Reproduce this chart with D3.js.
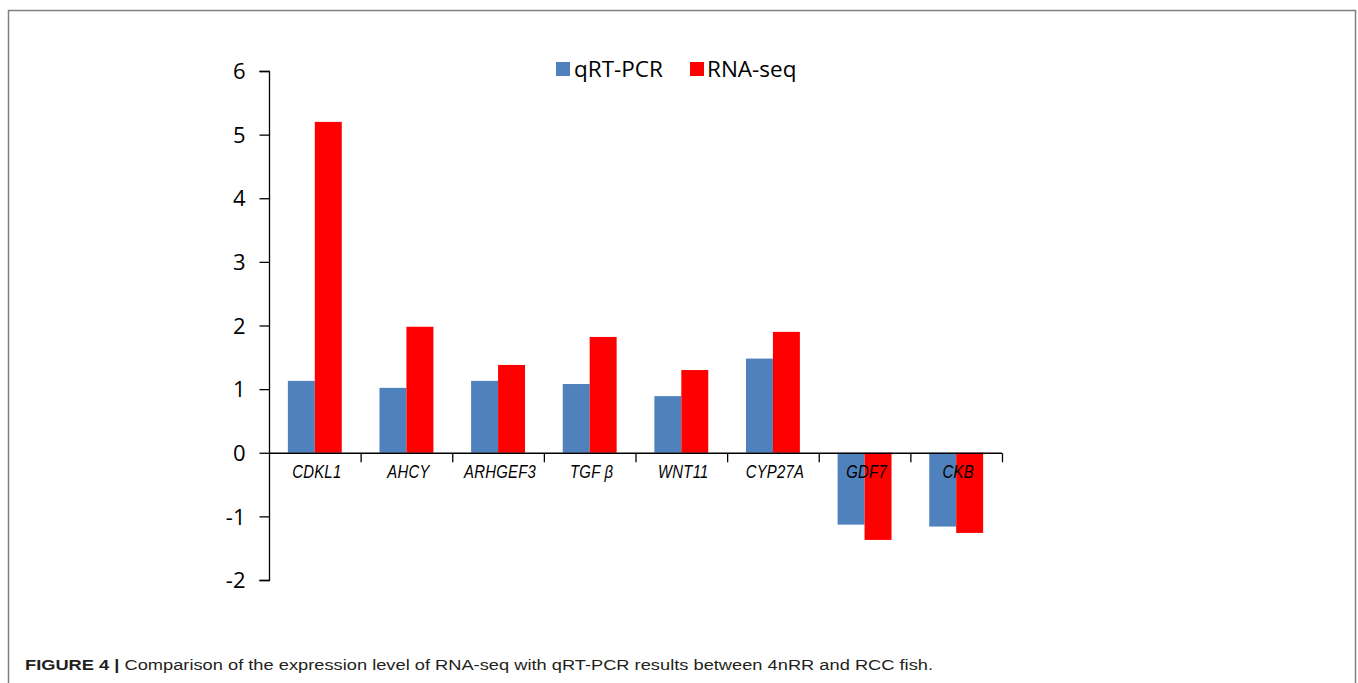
<!DOCTYPE html>
<html><head><meta charset="utf-8">
<script src="https://cdn.jsdelivr.net/npm/d3@7/dist/d3.min.js"></script>
<style>body{margin:0;background:#fff;} svg{display:block;}</style>
</head><body>
<svg id="c" width="1358" height="683"></svg>
<script>
const categories = ["CDKL1","AHCY","ARHGEF3","TGF β","WNT11","CYP27A","GDF7","CKB"];
const seriesNames = ["qRT-PCR","RNA-seq"];
const qrtpcr = [1.13, 1.02, 1.13, 1.08, 0.89, 1.48, -1.13, -1.16];
const rnaseq = [5.20, 1.98, 1.38, 1.82, 1.30, 1.90, -1.37, -1.26];
const yTicks = [-2,-1,0,1,2,3,4,5,6];
const colors = ["#4f81bd","#ff0000"];
const caption = "Comparison of the expression level of RNA-seq with qRT-PCR results between 4nRR and RCC fish.";

const svg = d3.select("#c");
// frame
svg.append("path").attr("d","M8.5,683 V10.5 H1355.5 V683").attr("fill","none").attr("stroke","#7f7f7f").attr("stroke-width",1.5);

const x = d3.scaleBand().domain(categories).range([269,1002]).paddingInner(0).paddingOuter(0);
const y = d3.scaleLinear().domain([-2,6]).range([580,71]);
const inner = d3.scaleBand().domain(seriesNames).range([0, x.bandwidth()]).paddingInner(0).paddingOuter(0.7);

const data = [qrtpcr, rnaseq];
const g = svg.append("g");
seriesNames.forEach((s,si)=>{
  g.selectAll(".b"+si).data(categories).enter().append("rect")
    .attr("x", c => x(c) + inner(s))
    .attr("width", inner.bandwidth())
    .attr("y", (c,i)=> y(Math.max(0,data[si][i])))
    .attr("height", (c,i)=> Math.abs(y(data[si][i]) - y(0)))
    .attr("fill", colors[si]);
});

// y axis
const yAxis = d3.axisLeft(y).tickValues(yTicks).tickSize(10).tickPadding(14).tickFormat(d => String(d));
const ya = svg.append("g").attr("transform","translate(269.5,0)").call(yAxis);
ya.select(".domain").attr("stroke","#000").attr("stroke-width",1.3).attr("d","M-10,"+(y(6)+0.5)+"H0V"+(y(-2)+0.5)+"H-10");
ya.selectAll(".tick line").attr("stroke","#000").attr("stroke-width",1.3);
ya.selectAll("text").attr("font-family","'Open Sans', sans-serif").attr("font-size",22).attr("fill","#000").attr("dy","0.35em");

// x axis at 0
const xa = svg.append("g").attr("transform","translate(0,"+(y(0)+0.5)+")");
xa.append("line").attr("x1",269).attr("x2",1002).attr("stroke","#000").attr("stroke-width",1.3);
const bounds = categories.map(c=>x(c)+x.bandwidth());
xa.selectAll(".xt").data(bounds).enter().append("line")
  .attr("x1",d=>d+0.5).attr("x2",d=>d+0.5).attr("y1",0).attr("y2",9).attr("stroke","#000").attr("stroke-width",1.3);
xa.selectAll(".xl").data(categories).enter().append("text")
  .attr("transform",c=>"translate("+(x(c)+x.bandwidth()/2+2)+",24.5) scale(0.85,1)")
  .attr("text-anchor","middle")
  .attr("font-family","'Liberation Sans',Arial,sans-serif")
  .attr("font-style","italic").attr("font-size",17.5).attr("letter-spacing","0.3px").attr("fill","#000")
  .text(c=>c);

// legend
const lg = svg.append("g");
const legendPos = [{x:556, tx:574},{x:690, tx:707}];
seriesNames.forEach((s,i)=>{
  lg.append("rect").attr("x",legendPos[i].x).attr("y",62).attr("width",14).attr("height",14).attr("fill",colors[i]);
  lg.append("text").attr("x",legendPos[i].tx).attr("y",77).attr("font-family","'Open Sans',sans-serif").attr("font-size",22.5).attr("fill","#000").text(s);
});

// caption
const cap = svg.append("text").attr("transform","translate(25,669.5) scale(1.26,1)").attr("font-family","'Liberation Sans',Arial,sans-serif").attr("font-size",14.5).attr("fill","#231f20");
cap.append("tspan").attr("font-weight","bold").text("FIGURE 4 | ");
cap.append("tspan").text(caption);
</script>
</body></html>
